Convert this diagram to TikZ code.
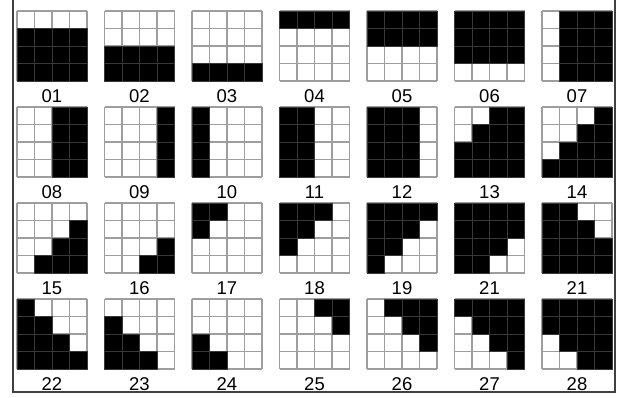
\documentclass[tikz,border=0pt]{standalone}
\usepackage{fontspec}
\setmainfont{Liberation Sans}
\usepackage{tikz}

\tikzset{
  gridline/.style={line width=1.4pt, black!38},
  cellon/.style={fill=black, draw=black!78, line width=0.8pt},
  numlab/.style={font=\fontsize{18.5}{18.5}\selectfont, inner sep=0pt},
  frameline/.style={line width=1.4pt, black!75}
}

\begin{document}
\begin{tikzpicture}[x=1pt, y=-1pt]
\useasboundingbox (0,0) rectangle (621,398);
\draw[frameline] (13,0) -- (13,392) -- (615,392) -- (615,0);
% one 4x4 grid per pattern, rows given as 4-bit numbers (left bit = left cell)
\foreach \lab/\ra/\rb/\rc/\rd [count=\i from 0] in {
  01/0/15/15/15, 02/0/0/15/15, 03/0/0/0/15, 04/15/0/0/0,
  05/15/15/0/0, 06/15/15/15/0, 07/7/7/7/7,
  08/3/3/3/3, 09/1/1/1/1, 10/8/8/8/8, 11/12/12/12/12,
  12/14/14/14/14, 13/3/7/15/15, 14/1/3/7/15,
  15/0/1/3/7, 16/0/0/1/3, 17/12/8/0/0, 18/14/12/8/0,
  19/15/14/12/8, 21/15/15/14/12, 21/12/14/15/15,
  22/8/12/14/15, 23/0/8/12/14, 24/0/0/8/12, 25/3/1/0/0,
  26/7/3/1/0, 27/15/7/3/1, 28/15/15/7/3}{
  \pgfmathsetmacro\gx{17+87.5*mod(\i,7)}
  \pgfmathsetmacro\gy{11+96*floor(\i/7)}
  \foreach \t in {0,17.5,35,52.5,70}{
    \draw[gridline] (\gx+\t,\gy) -- ++(0,70);
    \draw[gridline] (\gx,\gy+\t) -- ++(70,0);
  }
  \foreach \n [count=\r from 0] in {\ra,\rb,\rc,\rd}{
    \foreach \k in {0,...,3}{
      \pgfmathtruncatemacro\bit{mod(floor(\n/2^(3-\k)),2)}
      \ifnum\bit=1
        \filldraw[cellon] (\gx+17.5*\k,\gy+17.5*\r) rectangle ++(17.5,17.5);
      \fi
    }
  }
  \node[numlab] (lab\i) at (\gx+35,\gy+85) {\lab};
}
\end{tikzpicture}
\end{document}
